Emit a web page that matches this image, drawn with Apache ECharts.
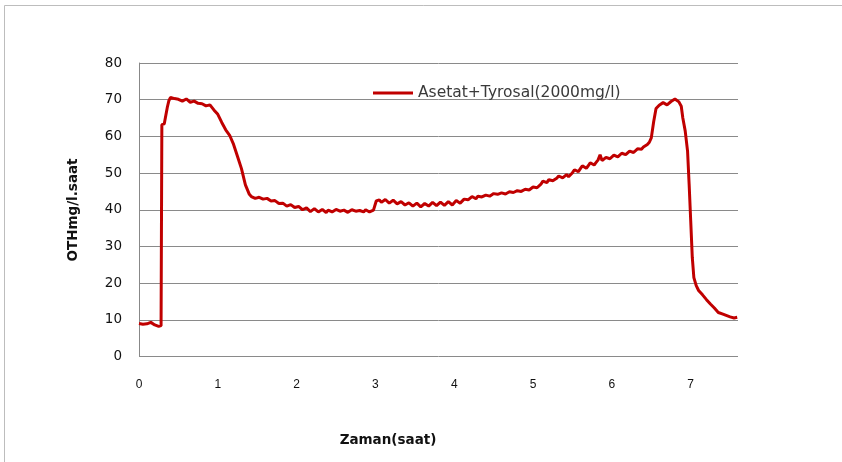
<!DOCTYPE html>
<html>
<head>
<meta charset="utf-8">
<script src="https://cdn.jsdelivr.net/npm/echarts@6/dist/echarts.min.js"></script>
<style>
  html, body { margin: 0; padding: 0; background: #fff; }
  #chart { width: 842px; height: 462px; }
</style>
</head>
<body>
<div id="chart"></div>
<script>
// Time (hours) and OTH readings for the acetate + tyrosol (2000 mg/l) run
var hours = [
  0.00, 0.05, 0.10, 0.15, 0.20, 0.25, 0.28, 0.29, 0.32, 0.34, 0.36, 0.38,
  0.40, 0.45, 0.50, 0.55, 0.60, 0.65, 0.70, 0.75, 0.80, 0.85, 0.90, 0.95,
  1.00, 1.05, 1.10, 1.15, 1.20, 1.25, 1.30, 1.35,
  1.400, 1.425, 1.450, 1.475, 1.500, 1.525, 1.550, 1.575, 1.600, 1.625, 1.650, 1.675,
  1.700, 1.725, 1.750, 1.775, 1.800, 1.825, 1.850, 1.875, 1.900, 1.925, 1.950, 1.975,
  2.000, 2.025, 2.050, 2.075, 2.100, 2.125, 2.150, 2.175, 2.200, 2.225, 2.250, 2.275,
  2.300, 2.325, 2.350, 2.375, 2.400, 2.425, 2.450, 2.475, 2.500, 2.525, 2.550, 2.575,
  2.600, 2.625, 2.650, 2.675, 2.700, 2.725, 2.750, 2.775, 2.800, 2.825, 2.850, 2.875,
  2.900, 2.925, 2.950, 2.975, 2.990,
  3.010, 3.025, 3.050, 3.075, 3.100, 3.125, 3.150, 3.175, 3.200, 3.225, 3.250, 3.275,
  3.300, 3.325, 3.350, 3.375, 3.400, 3.425, 3.450, 3.475, 3.500, 3.525, 3.550, 3.575,
  3.600, 3.625, 3.650, 3.675, 3.700, 3.725, 3.750, 3.775, 3.800, 3.825, 3.850, 3.875,
  3.900, 3.925, 3.950, 3.975, 4.000, 4.025, 4.050, 4.075, 4.100, 4.125, 4.150, 4.175,
  4.200, 4.225, 4.250, 4.275, 4.300, 4.325, 4.350, 4.375, 4.400, 4.425, 4.450, 4.475,
  4.500, 4.525, 4.550, 4.575, 4.600, 4.625, 4.650, 4.675, 4.700, 4.725, 4.750, 4.775,
  4.800, 4.825, 4.850, 4.875, 4.900, 4.925, 4.950, 4.975, 5.000, 5.025, 5.050, 5.075,
  5.100, 5.125, 5.150, 5.175, 5.200, 5.225, 5.250, 5.275, 5.300, 5.325, 5.350, 5.375,
  5.400, 5.425, 5.450, 5.475, 5.500, 5.525, 5.550, 5.575, 5.600, 5.625, 5.650, 5.675,
  5.700, 5.725, 5.750, 5.775, 5.800, 5.825, 5.850, 5.875, 5.900, 5.925, 5.950, 5.975,
  6.000, 6.025, 6.050, 6.075, 6.100, 6.125, 6.150, 6.175, 6.200, 6.225, 6.250, 6.275,
  6.300, 6.325, 6.350, 6.375, 6.400, 6.425, 6.450, 6.475, 6.500,
  6.53, 6.56, 6.60, 6.65, 6.70, 6.75, 6.80, 6.85,
  6.88, 6.90, 6.93, 6.96, 6.98, 7.00, 7.02, 7.04, 7.07, 7.10, 7.15, 7.20,
  7.25, 7.30, 7.35, 7.40, 7.45, 7.50, 7.55, 7.59
];
var oth = [
  9.0, 8.8, 8.9, 9.3, 8.6, 8.2, 8.4, 63.2, 63.4, 63.8, 68.0, 69.8,
  70.6, 70.3, 70.1, 69.6, 70.2, 69.3, 69.6, 69.0, 68.9, 68.3, 68.6, 67.2,
  66.0, 63.8, 61.8, 60.3, 57.8, 54.5, 51.2, 46.8,
  44.2, 43.6, 43.4, 43.1, 43.0, 43.4, 43.2, 42.9, 42.8, 43.1, 42.9, 42.4,
  42.2, 42.5, 42.0, 41.7, 41.3, 41.8, 41.6, 41.0, 40.8, 41.4, 41.2, 40.6,
  40.3, 40.9, 40.6, 40.0, 39.8, 40.5, 40.2, 39.5, 39.6, 40.3, 40.0, 39.4,
  39.3, 40.1, 39.7, 39.2, 39.9, 40.2, 39.4, 39.0, 40.1, 40.3, 39.6, 39.3,
  39.9, 40.2, 39.3, 39.7, 40.0, 39.5, 39.6, 40.1, 39.8, 39.3, 39.4, 40.0,
  39.9, 39.4, 39.5, 39.9, 39.6,
  42.4, 42.9, 42.7, 42.0, 42.2, 42.8, 42.5, 41.8, 41.9, 42.6, 42.3, 41.6,
  41.7, 42.2, 41.9, 41.3, 41.4, 41.9, 41.6, 41.0, 41.2, 41.8, 41.5, 40.8,
  41.0, 41.7, 41.6, 41.0, 41.3, 42.0, 41.8, 41.1, 41.2, 42.1, 41.9, 41.2,
  41.5, 42.2, 42.0, 41.3, 41.6, 42.5, 42.3, 41.8, 42.0, 42.9, 42.6, 42.7,
  43.1, 43.6, 43.4, 43.0, 43.7, 44.1, 43.5, 43.4, 44.0, 44.3, 43.7, 43.9,
  44.4, 44.8, 44.2, 44.1, 44.6, 45.0, 44.3, 44.6, 44.9, 45.3, 44.7, 44.9,
  45.2, 45.7, 45.0, 45.2, 45.6, 46.0, 45.4, 45.8, 46.2, 46.6, 46.0, 46.5,
  47.0, 47.8, 47.6, 47.4, 48.2, 48.5, 47.9, 48.3, 48.6, 49.2, 48.9, 48.7,
  49.2, 49.6, 49.0, 49.4, 50.1, 50.9, 50.8, 50.4, 51.2, 52.0, 51.8, 51.3,
  52.0, 52.8, 52.6, 52.2, 52.9, 53.6, 55.0, 53.4, 53.6, 54.3, 53.8, 53.9,
  54.2, 54.9, 54.6, 54.4, 54.9, 55.4, 55.1, 55.0, 55.5, 56.0, 55.7, 55.6,
  56.0, 56.6, 56.4, 56.5, 57.1, 57.6, 57.8, 58.4, 59.6,
  64.0, 67.6, 68.5, 69.2, 68.6, 69.5, 70.2, 69.4,
  68.2, 65.0, 61.5, 56.0, 47.0, 37.0, 27.0, 21.5, 19.3, 18.0, 16.8, 15.5,
  14.3, 13.2, 12.0, 11.6, 11.2, 10.8, 10.5, 10.7
];
var seriesName = 'Asetat+Tyrosal(2000mg/l)';
var xTitle = 'Zaman(saat)';
var yTitle = 'OTHmg/l.saat';

var points = hours.map(function (h, i) { return [h, oth[i]]; });

var chart = echarts.init(document.getElementById('chart'), null, { renderer: 'canvas' });
chart.setOption({
  animation: false,
  backgroundColor: '#ffffff',
  grid: { left: 139, right: 104, top: 63, bottom: 105.5, containLabel: false },
  legend: {
    left: 368, top: 80,
    itemWidth: 40, itemHeight: 3, itemGap: 5,
    icon: 'rect',
    textStyle: { fontFamily: 'DejaVu Sans', fontSize: 15.5, color: '#3a3a3a' },
    data: [seriesName]
  },
  xAxis: {
    type: 'value', min: 0, max: 7.6, interval: 1,
    axisLine: { show: false },
    axisTick: { show: false },
    splitLine: { show: false },
    axisLabel: {
      margin: 22, showMaxLabel: false,
      fontFamily: 'Liberation Sans', fontSize: 12, color: '#111'
    }
  },
  yAxis: {
    type: 'value', min: 0, max: 80, interval: 10,
    axisLine: { show: true, lineStyle: { color: '#888888', width: 1 } },
    axisTick: { show: false },
    splitLine: { show: true, lineStyle: { color: '#8a8a8a', width: 1 } },
    axisLabel: { margin: 17, fontFamily: 'DejaVu Sans', fontSize: 13.5, color: '#111' }
  },
  graphic: [
    { type: 'rect', silent: true, z: -1,
      shape: { x: 4.5, y: 5.5, width: 900, height: 500 },
      style: { fill: null, stroke: '#bdbdbd', lineWidth: 1 } },
    { type: 'text', x: 388, y: 440,
      style: { text: xTitle, fontFamily: 'DejaVu Sans', fontWeight: 'bold', fontSize: 13.5,
               fill: '#111', textAlign: 'center', textVerticalAlign: 'middle' } },
    { type: 'text', x: 73, y: 210, rotation: Math.PI / 2,
      style: { text: yTitle, fontFamily: 'DejaVu Sans', fontWeight: 'bold', fontSize: 13.5,
               fill: '#111', textAlign: 'center', textVerticalAlign: 'middle' } }
  ],
  series: [{
    name: seriesName,
    type: 'line',
    data: points,
    showSymbol: false,
    smooth: false,
    color: '#c00000',
    lineStyle: { color: '#c00000', width: 3 }
  }]
});
</script>
</body>
</html>
